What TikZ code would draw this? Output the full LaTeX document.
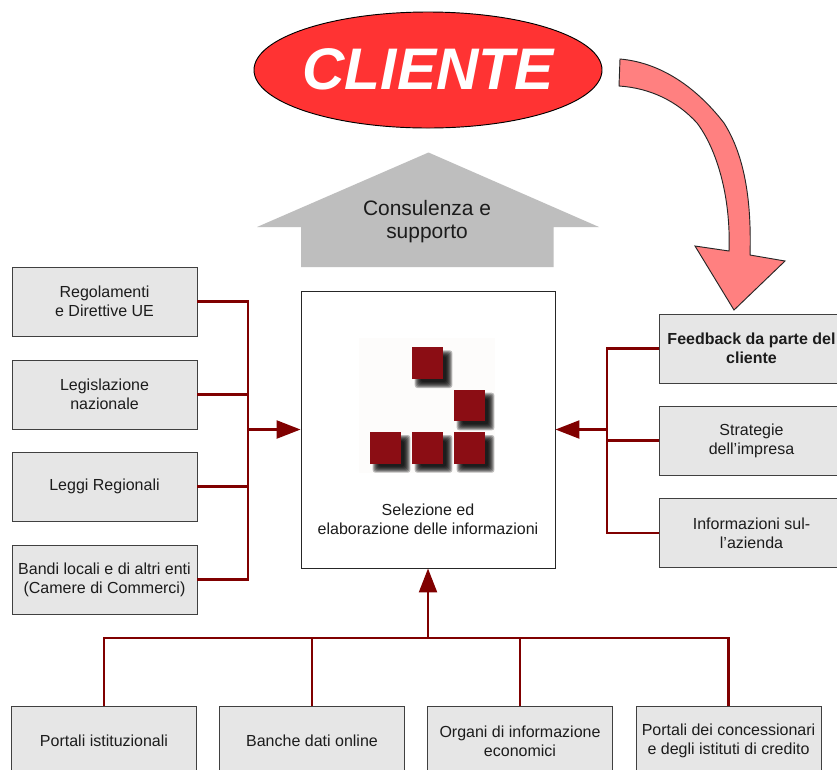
\documentclass[tikz,border=0pt]{standalone}
\usepackage{fontspec}
\setmainfont{Liberation Sans}
\usetikzlibrary{arrows.meta,shapes.geometric}
\definecolor{wine}{HTML}{800000}
\definecolor{boxgrey}{HTML}{E6E6E6}
\definecolor{logored}{HTML}{8B0D14}
\definecolor{inkc}{HTML}{1C1C1C}
\tikzset{
  infobox/.style={draw=black!75,line width=0.65pt,fill=boxgrey,minimum width=138.75pt,minimum height=51.75pt,
    inner sep=0pt,align=center,text=inkc,font=\fontsize{12}{14.25}\selectfont},
  wire/.style={draw=wine,line width=1.75pt},
  wirearrow/.style={wire,-{Triangle[length=18pt,width=13.5pt,fill=wine]}},
  logosq/.style={fill=logored},
}
\begin{document}
\begin{tikzpicture}[x=0.75pt,y=-0.75pt]
\useasboundingbox (0,0) rectangle (837,769);
\clip (0,0) rectangle (837,769);
\fill[white] (0,0) rectangle (837,769);

% client ellipse
\node[ellipse,draw=black,line width=0.7pt,fill={rgb,255:red,255;green,51;blue,51},minimum width=261pt,minimum height=87pt,inner sep=0pt] (cliente) at (428,70) {};
\node[text=white,font=\fontsize{44}{44}\selectfont\bfseries\itshape,inner sep=0pt] (clientetext) at (428,69) {CLIENTE};

% curved arrow
\draw[draw=black!85,line width=0.7pt,fill={rgb,255:red,255;green,128;blue,128},line join=miter]
  (620,59) .. controls (665,63) and (700,92) .. (724,123)
  .. controls (741,150) and (752,190) .. (750,255)
  -- (785,261) -- (734,310) -- (695,246) -- (729,251)
  .. controls (731,195) and (716,148) .. (697,123)
  .. controls (677,101) and (650,88) .. (619,86) -- cycle;

% grey up arrow
\fill[fill={rgb,255:red,190;green,190;blue,190}]
  (428.5,152.5) -- (599,227) -- (553.5,227) -- (553.5,267) -- (301,267) -- (301,227) -- (257,227) -- cycle;
\node[align=center,text=inkc,font=\fontsize{15.7}{17.25}\selectfont,inner sep=0pt] (consulenza) at (427,222) {Consulenza e\\supporto};

% centre box
\node[draw=black!85,line width=0.7pt,fill=white,minimum width=190.5pt,minimum height=207.75pt,inner sep=0pt] (centre) at (428,429.5) {};
\fill[fill={rgb,255:red,253;green,252;blue,251}] (359,338) rectangle (495,473);
\foreach \xa/\ya in {411.7/347.3,453.7/389.7,369.7/432,411.7/432,453.7/432}{
  \foreach \k in {-3,-2,-1,0,1,2,3}{
    \fill[black,opacity=.26,rounded corners=2pt] (\xa+6-\k,\ya+6-\k) rectangle (\xa+37.7+\k,\ya+37.7+\k);
  }
}
\foreach \xa/\ya in {411.7/347.3,453.7/389.7,369.7/432,411.7/432,453.7/432}{
  \fill[logosq] (\xa,\ya) rectangle (\xa+31.7,\ya+31.7);
}
\node[align=center,text=inkc,font=\fontsize{12}{14.25}\selectfont,inner sep=0pt] (sel) at (428,519.5) {Selezione ed\\elaborazione delle informazioni};

% left boxes
\node[infobox] (l1) at (104.5,301.5) {Regolamenti\\e Direttive UE};
\node[infobox] (l2) at (104.5,394.5) {Legislazione\\nazionale};
\node[infobox] (l3) at (104.5,486.5) {Leggi Regionali};
\node[infobox] (l4) at (104.5,579.5) {Bandi locali e di altri enti\\(Camere di Commerci)};

% right boxes
\node[infobox,font=\fontsize{12}{14.25}\selectfont\bfseries] (r1) at (751.5,348.5) {Feedback da parte del\\cliente};
\node[infobox] (r2) at (751.5,440.5) {Strategie\\dell'impresa};
\node[infobox] (r3) at (751.5,533) {Informazioni sul-\\l'azienda};

% bottom boxes
\node[infobox] (b1) at (104,741) {Portali istituzionali};
\node[infobox] (b2) at (312,741) {Banche dati online};
\node[infobox] (b3) at (520,741) {Organi di informazione\\economici};
\node[infobox] (b4) at (728.5,741) {Portali dei concessionari\\e degli istituti di credito};

% buses
\coordinate (busL) at (248,429.5);
\coordinate (busR) at (607,429.5);
\coordinate (busB) at (428,638);

\foreach \n in {l1,l2,l3,l4} \draw[wire] (\n.east) -| (busL);
\foreach \n in {r1,r2,r3} \draw[wire] (\n.west) -| (busR);
\foreach \n in {b1,b2,b3,b4} \draw[wire] (\n.north) |- (busB);
\draw[wirearrow] (busL) -- (centre.west);
\draw[wirearrow] (busR) -- (centre.east);
\draw[wirearrow] (busB) -- (centre.south);
\end{tikzpicture}
\end{document}
